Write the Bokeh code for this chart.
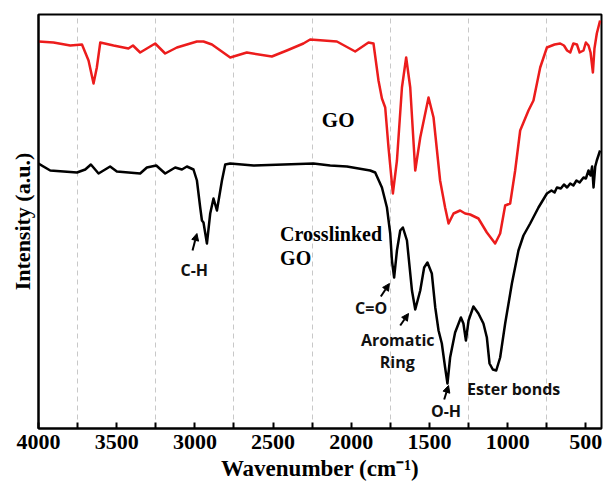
from bokeh.plotting import figure
from bokeh.models import Range1d, FixedTicker, Arrow, NormalHead
from bokeh.core.properties import value
from bokeh.embed import file_html
from bokeh.resources import INLINE

# GO spectrum (red)
go_wn = [4000, 3904, 3797, 3722, 3680, 3648, 3627, 3605, 3520, 3425, 3396, 3350, 3254, 3190, 3115,
         2987, 2945, 2891, 2774, 2753, 2668, 2508, 2412, 2306, 2263, 2092, 1975, 1890, 1858, 1826,
         1804, 1783, 1762, 1734, 1708, 1676, 1649, 1623, 1591, 1559, 1506, 1474, 1432, 1400, 1378,
         1346, 1304, 1272, 1240, 1187, 1133, 1080, 1048, 1016, 984, 952, 920, 867, 835, 792,
         749, 700, 664, 640, 620, 600, 580, 557, 540, 515, 500, 483, 470, 455, 445, 430, 409]
go_int = [387, 386, 383, 384, 368, 345, 361, 386, 383, 380, 383, 376, 385, 375, 381,
          387, 387, 384, 371, 372, 376, 372, 378, 385, 389, 387, 377, 386, 385, 348,
          330, 321, 281, 235, 268, 341, 371, 341, 258, 291, 331, 311, 248, 221, 205,
          215, 218, 215, 214, 210, 196, 185, 195, 223, 225, 258, 298, 318, 328, 361,
          381, 384, 385, 383, 378, 376, 385, 384, 376, 378, 386, 383, 376, 356, 380, 395, 408]

# Crosslinked GO spectrum (black)
cgo_wn = [4000, 3925, 3754, 3701, 3665, 3616, 3542, 3499, 3350, 3307, 3247, 3190, 3126, 3083, 3051,
          3009, 2987, 2966, 2955, 2945, 2923, 2902, 2881, 2859, 2827, 2806, 2774, 2625, 2242, 2135,
          2028, 1879, 1847, 1804, 1772, 1751, 1740, 1726, 1708, 1687, 1670, 1644, 1612, 1591, 1559,
          1534, 1513, 1485, 1463, 1442, 1421, 1400, 1385, 1368, 1336, 1299, 1283, 1267, 1250, 1219,
          1187, 1155, 1133, 1116, 1095, 1073, 1048, 1016, 973, 931, 899, 856, 803, 749, 720,
          700, 685, 660, 640, 620, 600, 580, 560, 540, 515, 500, 483, 470, 460, 451, 440, 430, 409]
cgo_int = [265, 258, 256, 259, 264, 255, 262, 257, 255, 261, 263, 255, 261, 259, 262,
           259, 248, 221, 208, 206, 185, 215, 230, 218, 248, 264, 265, 263, 265, 263,
           262, 258, 256, 241, 221, 195, 168, 151, 178, 198, 201, 188, 138, 119, 138,
           161, 166, 155, 121, 98, 85, 61, 45, 71, 96, 111, 105, 88, 108, 122,
           115, 105, 91, 65, 59, 58, 71, 105, 145, 178, 193, 205, 221, 235, 238,
           236, 241, 240, 244, 241, 245, 243, 248, 246, 251, 250, 258, 253, 262, 241, 262, 268, 278]

x_major = [4000, 3500, 3000, 2500, 2000, 1500, 1000, 500]
x_minor = [3750, 3250, 2750, 2250, 1750, 1250, 750]
grid_wn = [3750, 3250, 2750, 2250, 1750, 1250, 750]

SERIF = "Liberation Serif"
SANS = "Open Sans"

p = figure(width=606, height=492, x_range=Range1d(4000, 400), y_range=Range1d(0, 414),
           output_backend="svg", toolbar_location=None,
           min_border_left=38, min_border_right=5, min_border_top=14, min_border_bottom=64)
p.background_fill_color = "white"
p.border_fill_color = "white"
p.outline_line_color = "black"
p.outline_line_width = 2

p.xgrid.ticker = FixedTicker(ticks=grid_wn)
p.xgrid.grid_line_color = "#c8c8c8"
p.xgrid.grid_line_dash = "5 4"
p.xgrid.grid_line_width = 1
p.ygrid.visible = False

xa = p.xaxis[0]
xa.ticker = FixedTicker(ticks=x_major, minor_ticks=x_minor)
xa.axis_line_width = 2
xa.major_tick_in = 6
xa.major_tick_out = 0
xa.minor_tick_in = 6
xa.minor_tick_out = 0
xa.major_tick_line_width = 2
xa.minor_tick_line_width = 2
xa.major_label_text_font = SERIF
xa.major_label_text_font_style = "bold"
xa.major_label_text_font_size = "22px"
xa.major_label_text_color = "black"
xa.major_label_standoff = 6
xa.axis_label = "Wavenumber (cm⁻¹)"
xa.axis_label_text_font = SERIF
xa.axis_label_text_font_style = "bold"
xa.axis_label_text_font_size = "23px"
xa.axis_label_text_color = "black"
xa.axis_label_standoff = 4

ya = p.yaxis[0]
ya.ticker = FixedTicker(ticks=[])
ya.axis_line_width = 2
ya.major_tick_line_color = None
ya.minor_tick_line_color = None
ya.major_label_standoff = 0
ya.axis_label = "Intensity (a.u.)"
ya.axis_label_text_font = SERIF
ya.axis_label_text_font_style = "bold"
ya.axis_label_text_font_size = "22px"
ya.axis_label_text_color = "black"
ya.axis_label_standoff = 4

p.line(go_wn, go_int, line_color="#ec1c1c", line_width=2.5, line_join="round")
p.line(cgo_wn, cgo_int, line_color="black", line_width=2.5, line_join="round")

# serif labels
p.text(x=[2084], y=[309], text=["GO"], text_font=value(SERIF), text_font_style="bold",
       text_font_size="21px", text_align="center", text_baseline="middle", text_color="black")
p.text(x=[2455, 2455], y=[195, 171], text=["Crosslinked", "GO"], text_font=value(SERIF),
       text_font_style="bold", text_font_size="20px", text_align="left", text_baseline="middle",
       text_color="black")

# sans annotations
p.text(x=[3004, 1873, 1703, 1706, 1394, 962], y=[159, 121, 89, 67, 18, 40],
       text=["C-H", "C=O", "Aromatic", "Ring", "O-H", "Ester bonds"],
       text_font=value(SANS), text_font_style="bold", text_font_size="16px",
       text_align="center", text_baseline="middle", text_color="#111111")

for xs, ys, xe, ye in [(3015, 178, 2987, 195), (1811, 132, 1756, 145),
                       (1687, 103, 1634, 115), (1406, 29, 1378, 43)]:
    p.add_layout(Arrow(end=NormalHead(size=7, fill_color="black", line_color="black", line_width=1),
                       x_start=xs, y_start=ys, x_end=xe, y_end=ye,
                       line_color="black", line_width=2))

open("out.html", "w").write(file_html(p, INLINE))
